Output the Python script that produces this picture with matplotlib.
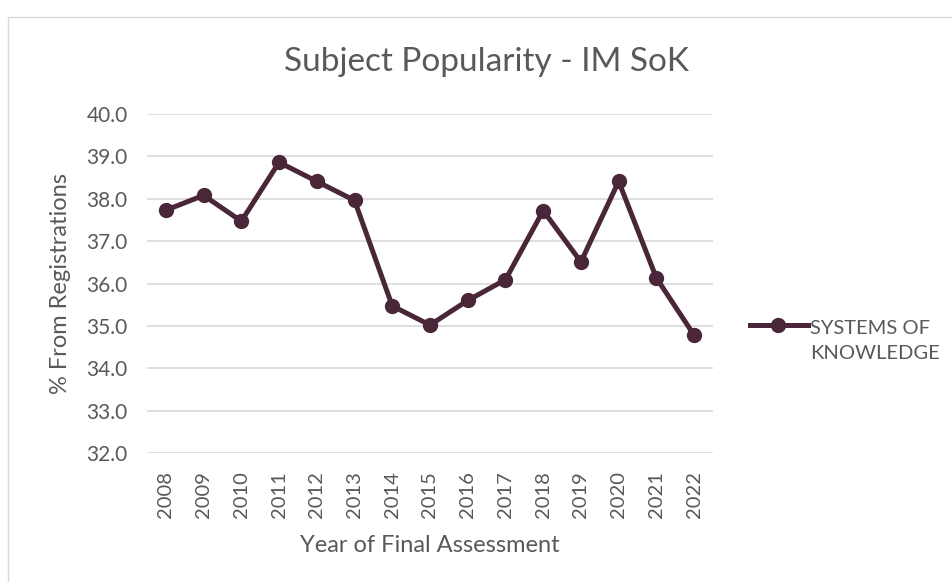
import numpy as np
import matplotlib.pyplot as plt
from matplotlib.lines import Line2D
from matplotlib.patches import Rectangle

years = [str(y) for y in range(2008, 2023)]
share = [37.73, 38.08, 37.47, 38.86, 38.41, 37.96, 35.47, 35.02,
         35.60, 36.09, 37.72, 36.51, 38.41, 36.13, 34.78]
series_name = "SYSTEMS OF\nKNOWLEDGE"

line_clr = "#4a2639"
text_clr = "#595959"
grid_clr = "#d9d9d9"

plt.rcParams['font.family'] = ['Lato', 'DejaVu Sans']

W, H = 952, 582
fig = plt.figure(figsize=(W/100, H/100), dpi=100)
ax = fig.add_axes([147/W, 1-453/H, (713-147)/W, (453-114)/H])

x = np.arange(len(years))
ax.plot(x, share, color=line_clr, lw=3.6, marker='o', ms=10, zorder=3)

yt = np.arange(32, 40.5, 1.0)
ax.set_xlim(-0.5, len(years) - 0.5)
ax.set_ylim(32, 40)
ax.set_yticks(yt)
ax.set_yticklabels([f"{v:.1f}" for v in yt])
ax.set_xticks(x)
ax.set_xticklabels(years, rotation=90)
ax.yaxis.grid(True, color=grid_clr, lw=1.2)
ax.set_axisbelow(True)
for s in ax.spines.values():
    s.set_visible(False)
ax.tick_params(axis='y', length=0, labelsize=15, colors=text_clr, pad=14)
ax.tick_params(axis='x', length=0, labelsize=14.5, colors=text_clr, pad=13)

fig.text(61/W, 1-283/H, "% From Registrations", fontsize=17, color=text_clr,
         rotation=90, ha='center', va='center')
fig.text(430/W, 1-545/H, "Year of Final Assessment", fontsize=17, color=text_clr,
         ha='center', va='center')
fig.text(487/W, 1-62/H, "Subject Popularity - IM SoK", fontsize=24,
         color=text_clr, ha='center', va='center')

# legend drawn on figure
fig.add_artist(Line2D([750/W, 808/W], [1-325/H, 1-325/H], color=line_clr, lw=3.6))
fig.add_artist(Line2D([778/W], [1-325/H], color=line_clr, marker='o', ms=10))
fig.text(810/W, 1-341/H, series_name, fontsize=14.5, color=text_clr,
         ha='left', va='center', linespacing=1.55)

fig.add_artist(Rectangle((8/W, -0.1), 1.1, 1-17/H + 0.1, transform=fig.transFigure,
                         fill=False, ec=grid_clr, lw=1))

fig.savefig("out.png", dpi=100)
